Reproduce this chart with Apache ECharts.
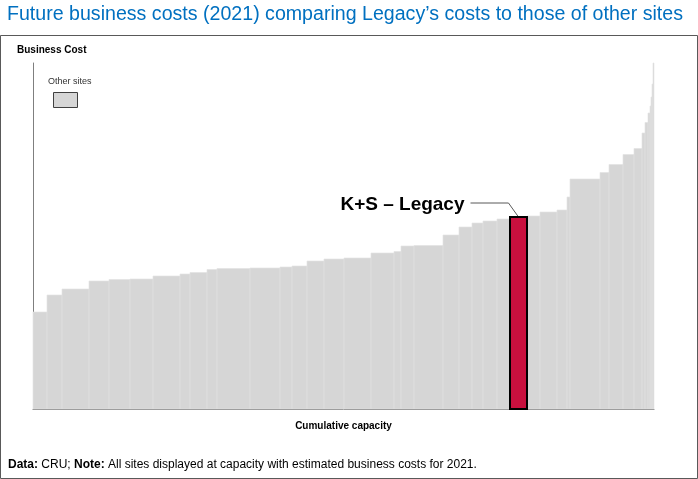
<!DOCTYPE html>
<html>
<head>
  <meta charset="UTF-8">
  <title>Future business costs (2021)</title>
  <script src="https://cdn.jsdelivr.net/npm/echarts@6/dist/echarts.min.js"></script>
  <style>
  html, body {
    margin: 0;
    padding: 0;
    background: #fff;
  }
  #chart {
    width: 698px;
    height: 479px;
  }
  </style>
</head>
<body>
  <div id="chart"></div>
<script>
// sites sorted by business cost; capacity and cost in arbitrary units
var capacity = [14, 15, 27, 20, 21, 23, 27, 10, 17, 10, 33, 30, 12, 15, 17, 20, 27, 23, 7, 13,
  29, 16, 13, 11, 14, 13, 17, 13, 17, 10, 3, 30, 9, 14, 11, 8, 3, 3, 2, 1, 1, 1, 1];
var cost = [97, 114, 120, 128, 129.5, 130, 133, 135, 136.5, 139.5, 140.5, 141, 142, 143, 148, 150, 151, 156, 157.5, 163,
  163.5, 174, 182, 186, 188, 190, 192, 193, 197, 199, 212, 230, 236.5, 244.5, 254.5, 260.5, 276, 286.5, 296, 303, 312, 325, 346];
var legacyIndex = 26;
var legacyName = 'K+S – Legacy';
var otherName = 'Other sites';

var others = [];
var legacy = [];
var total = 0;
for (var i = 0; i < capacity.length; i++) {
  var item = [total, total + capacity[i], cost[i]];
  if (i == legacyIndex) {
    legacy.push(item);
  } else {
    others.push(item);
  }
  total += capacity[i];
}

var renderBar = function(params, api) {
  var p0 = api.coord([api.value(0), 0]);
  var p1 = api.coord([api.value(1), api.value(2)]);
  return {
    type: 'rect',
    shape: {
      x: p0[0],
      y: p1[1],
      width: p1[0] - p0[0],
      height: p0[1] - p1[1]
    },
    style: api.style()
  };
};

var myChart = echarts.init(document.getElementById('chart'));

var option = {
  animation: false,
  textStyle: {
    fontFamily: 'Liberation Sans, Arial, sans-serif'
  },
  title: {
    text: 'Future business costs (2021) comparing Legacy’s costs to those of other sites',
    left: 7,
    top: 5,
    padding: 0,
    textStyle: {
      color: '#0070c0',
      fontSize: 19.6,
      fontWeight: 'normal'
    }
  },
  legend: {
    data: [otherName],
    left: 53,
    top: 92,
    padding: 0,
    itemWidth: 24,
    itemHeight: 15,
    icon: 'rect',
    formatter: function() {
      return '';
    },
    itemStyle: {
      borderColor: '#404040',
      borderWidth: 1
    },
    selectedMode: false
  },
  grid: {
    left: 33,
    right: 44,
    top: 63,
    bottom: 70
  },
  xAxis: {
    type: 'value',
    min: 0,
    max: total,
    name: 'Cumulative capacity',
    nameLocation: 'middle',
    nameGap: 12,
    nameTextStyle: {
      fontSize: 10,
      fontWeight: 'bold',
      color: '#000'
    },
    axisLine: {
      lineStyle: {
        color: '#7f7f7f'
      }
    },
    axisTick: {
      show: false
    },
    axisLabel: {
      show: false
    },
    splitLine: {
      show: false
    }
  },
  yAxis: {
    type: 'value',
    min: 0,
    max: 346,
    axisLine: {
      show: true,
      lineStyle: {
        color: '#7f7f7f'
      }
    },
    axisTick: {
      show: false
    },
    axisLabel: {
      show: false
    },
    splitLine: {
      show: false
    }
  },
  series: [{
    name: otherName,
    type: 'custom',
    renderItem: renderBar,
    encode: {
      x: [0, 1],
      y: 2
    },
    itemStyle: {
      color: '#d6d6d6',
      borderColor: '#e3e3e3',
      borderWidth: 0.6
    },
    data: others
  }, {
    name: legacyName,
    type: 'custom',
    renderItem: renderBar,
    encode: {
      x: [0, 1],
      y: 2
    },
    itemStyle: {
      color: '#c8103e',
      borderColor: '#000',
      borderWidth: 2
    },
    data: legacy
  }]
};

myChart.setOption(option);

// label and leader line for the Legacy site
var tip = myChart.convertToPixel({ seriesIndex: 1 }, [(legacy[0][0] + legacy[0][1]) / 2, legacy[0][2]]);

myChart.setOption({
  graphic: [{
    type: 'rect',
    silent: true,
    shape: { x: 0.5, y: 35.5, width: 697, height: 443 },
    style: { fill: null, stroke: '#595959', lineWidth: 1 }
  }, {
    type: 'text',
    left: 17,
    top: 45,
    style: {
      text: 'Business Cost',
      font: 'bold 10px Liberation Sans, Arial, sans-serif',
      fill: '#000'
    }
  }, {
    type: 'text',
    left: 48,
    top: 77,
    style: {
      text: otherName,
      font: '9px Liberation Sans Narrow, Arial, sans-serif',
      fill: '#333'
    }
  }, {
    type: 'text',
    x: tip[0] - 54,
    y: tip[1] - 12,
    style: {
      text: legacyName,
      font: 'bold 19px Liberation Sans, Arial, sans-serif',
      fill: '#000',
      align: 'right',
      verticalAlign: 'middle'
    }
  }, {
    type: 'polyline',
    shape: {
      points: [[tip[0] - 48, tip[1] - 14], [tip[0] - 10, tip[1] - 14], [tip[0], tip[1]]]
    },
    style: { stroke: '#595959', lineWidth: 1, fill: null }
  }, {
    type: 'text',
    left: 8,
    top: 459,
    style: {
      rich: {
        b: { fontWeight: 'bold', fontSize: 12, fontFamily: 'Liberation Sans Narrow, Arial, sans-serif' },
        n: { fontSize: 12, fontFamily: 'Liberation Sans Narrow, Arial, sans-serif' }
      },
      text: '{b|Data:}{n| CRU; }{b|Note:}{n| All sites displayed at capacity with estimated business costs for 2021.}',
      fill: '#000'
    }
  }]
});
</script>
</body>
</html>
